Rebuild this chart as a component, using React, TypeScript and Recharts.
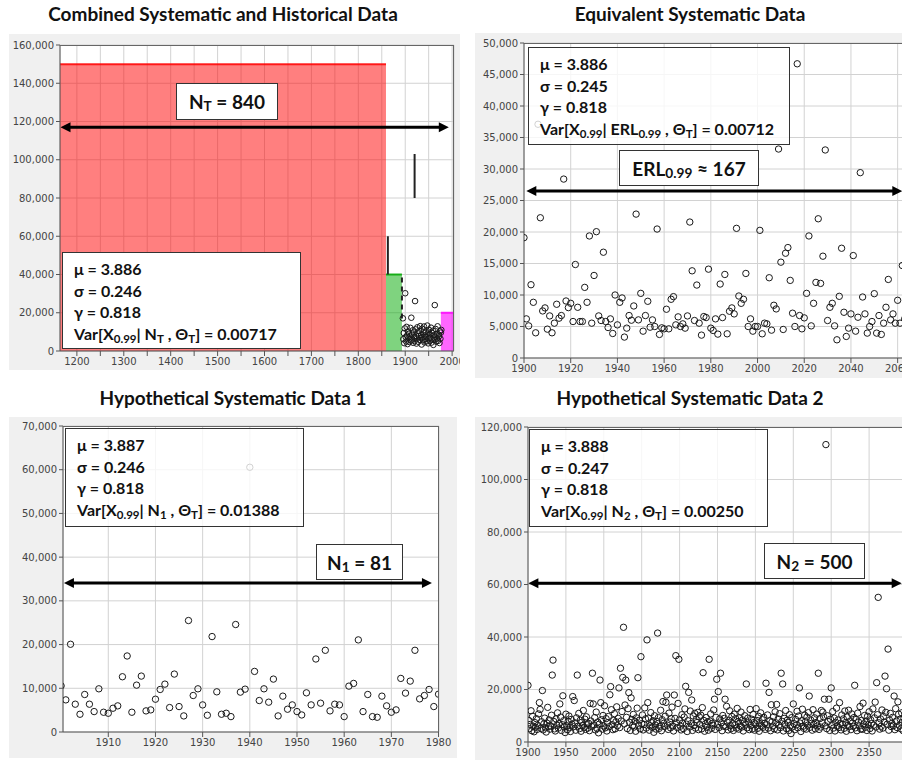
import React from "react";
import {
  ScatterChart,
  Scatter,
  XAxis,
  YAxis,
  CartesianGrid,
  ReferenceArea,
  ReferenceLine,
} from "recharts";

// all flows in thousands of cfs, one value per year
const K = 1000;

// --- Combined systematic and historical data ---
const combinedStartYear = 1895;
const combinedFlows = [
  17.1, 6.2, 9.4, 4.1, 11.8, 30.2, 7.3, 5.0, 12.6, 8.1,
  3.6, 10.2, 6.8, 9.0, 4.7, 7.5, 12.1, 5.5, 17.4, 8.6,
  6.0, 10.8, 4.3, 9.7, 7.1, 5.2, 26.1, 11.3, 8.0, 3.9,
  6.5, 12.4, 9.2, 4.8, 7.8, 10.5, 5.8, 13.0, 6.9, 8.4,
  3.4, 11.6, 7.2, 5.6, 9.8, 12.8, 4.5, 8.2, 6.3, 10.0,
  7.6, 5.1, 13.3, 9.1, 4.0, 6.7, 11.0, 8.8, 5.4, 7.0,
  12.2, 4.4, 9.5, 6.1, 10.6, 3.2, 8.3, 5.9, 24.0, 7.4,
  11.5, 4.9, 9.0, 6.6, 12.9, 5.3, 8.5, 7.7, 4.2, 10.3,
  6.4, 9.6, 11.0,
];
const histFrom = [1164, 1859, 1976];
const histTo = [1859, 1893, 2004];
const histLevel = [150000, 40000, 20000];
const histFloodYear = [1863, 1920];
const histFloodLow = [40000, 80000];
const histFloodHigh = [60000, 103000];
const censoredYear = 1893;
const censoredRange = [17000, 40000];
const combinedSpan = [1165, 1993];
const combinedArrowAt = 117000;

// --- Equivalent systematic data (ERL) ---
const erlStartYear = 1900;
const erlFlows = [
  19.1, 6.21, 5.1, 11.63, 8.84, 4.0, 37.1, 22.26, 7.47, 7.95,
  4.58, 6.68, 4.0, 5.53, 8.53, 6.32, 6.74, 28.4, 9.05, 8.0,
  8.68, 5.79, 14.84, 8.05, 5.79, 5.79, 11.21, 8.84, 19.37, 5.53,
  13.1, 20.05, 6.68, 5.95, 16.79, 5.79, 4.84, 6.21, 3.89, 10.0,
  5.26, 8.84, 9.53, 3.32, 4.74, 6.74, 6.0, 8.26, 22.84, 6.05,
  10.26, 4.26, 6.74, 9.0, 4.89, 6.05, 5.0, 20.47, 3.74, 4.79,
  4.63, 7.74, 4.63, 9.32, 9.74, 5.26, 6.53, 5.0, 5.42, 4.74,
  6.68, 21.58, 13.84, 5.95, 11.58, 5.53, 3.63, 6.58, 6.42, 14.1,
  4.74, 4.37, 6.21, 3.79, 11.74, 6.42, 13.26, 3.84, 7.42, 7.95,
  7.0, 20.58, 9.84, 8.68, 9.32, 13.42, 5.0, 6.21, 4.26, 5.0,
  5.0, 20.26, 3.84, 5.53, 5.42, 12.74, 4.42, 8.37, 7.79, 33.17,
  15.21, 4.53, 16.63, 17.53, 12.32, 7.11, 5.0, 46.7, 6.74, 4.63,
  6.37, 10.26, 19.37, 5.1, 8.68, 12.0, 22.1, 11.84, 16.16, 33.02,
  5.95, 8.05, 8.68, 5.1, 2.89, 9.79, 17.42, 7.26, 3.42, 4.74,
  7.0, 16.26, 4.26, 6.47, 29.42, 9.68, 7.0, 3.95, 5.0, 5.79,
  10.21, 3.95, 6.74, 3.74, 5.53, 8.05, 12.47, 6.05, 7.0, 5.53,
  9.16, 5.53, 14.68, 6.21,
];
const erlSpan = [1901, 2062];
const erlArrowAt = 26500;

// --- Hypothetical systematic data 1 ---
const hyp1StartYear = 1900;
const hyp1Flows = [
  10.57, 7.35, 20.07, 6.36, 4.06, 8.58, 6.36, 4.67, 9.88, 4.52,
  4.29, 5.44, 5.98, 12.64, 17.39, 4.52, 10.72, 12.79, 4.83, 5.06,
  7.5, 9.73, 10.95, 5.59, 13.25, 5.82, 3.68, 25.5, 8.35, 9.88,
  6.2, 3.83, 21.83, 9.19, 4.06, 4.29, 3.52, 24.59, 9.12, 9.8,
  60.56, 13.86, 7.2, 9.88, 6.82, 12.1, 3.68, 8.2, 5.21, 6.2,
  4.67, 3.9, 8.96, 6.2, 16.7, 6.59, 18.69, 4.83, 6.36, 6.2,
  3.52, 10.49, 11.11, 21.07, 4.67, 8.58, 3.52, 3.37, 8.2, 5.98,
  4.52, 5.06, 12.26, 8.89, 11.64, 18.69, 7.58, 8.35, 9.73, 5.82,
  8.65,
];
const hyp1Span = [1900.6, 1978.6];
const hyp1ArrowAt = 34100;

// --- Hypothetical systematic data 2 ---
const hyp2StartYear = 1900;
const hyp2Flows = [
  21.6, 8.2, 5.1, 6.7, 11.9, 4.3, 9.8, 6.0, 3.9, 7.4,
  5.6, 8.9, 4.8, 6.3, 10.7, 15.0, 12.4, 5.2, 7.7, 19.6,
  4.6, 6.9, 9.1, 5.4, 3.8, 7.2, 13.2, 5.9, 8.4, 4.9,
  6.1, 10.2, 25.5, 31.2, 7.8, 5.0, 4.2, 8.8, 6.4, 11.1,
  5.3, 7.0, 14.5, 9.5, 4.4, 6.6, 17.6, 8.1, 5.7, 3.6,
  10.6, 6.2, 4.7, 7.9, 9.9, 5.5, 4.0, 8.6, 6.8, 17.3,
  5.8, 15.8, 7.3, 4.5, 9.2, 25.5, 6.0, 10.9, 5.1, 8.3,
  4.1, 7.5, 6.3, 12.0, 5.6, 8.7, 4.8, 9.6, 6.9, 5.3,
  7.1, 4.3, 14.7, 8.0, 5.9, 26.2, 14.5, 6.5, 9.3, 4.6,
  11.4, 5.2, 7.6, 3.5, 6.8, 23.6, 15.0, 8.5, 4.9, 10.1,
  6.1, 13.8, 5.4, 8.9, 4.2, 7.3, 9.7, 5.8, 18.0, 21.1,
  12.3, 6.6, 4.7, 8.2, 10.8, 5.0, 7.7, 13.4, 6.2, 9.0,
  20.6, 5.5, 28.1, 8.0, 11.6, 24.6, 43.7, 6.9, 14.1, 23.6,
  9.4, 5.1, 12.7, 18.8, 7.5, 4.4, 16.8, 8.6, 6.3, 10.5,
  5.7, 7.9, 4.1, 9.2, 12.9, 24.5, 6.4, 8.3, 5.0, 32.5,
  7.0, 10.3, 4.6, 6.7, 13.0, 8.8, 5.3, 38.9, 15.0, 9.1,
  4.5, 6.2, 11.2, 7.4, 5.6, 8.1, 3.7, 10.0, 6.5, 4.9,
  7.8, 41.5, 9.3, 5.2, 6.0, 12.1, 4.3, 8.5, 15.4, 7.1,
  5.9, 9.8, 15.1, 17.9, 6.4, 4.8, 11.0, 7.6, 5.4, 8.9,
  13.3, 6.1, 4.2, 17.9, 9.0, 32.9, 7.3, 5.5, 14.7, 31.5,
  8.4, 6.0, 4.6, 10.4, 7.2, 5.1, 9.5, 12.6, 21.2, 6.8,
  4.0, 8.1, 18.9, 5.7, 11.8, 7.0, 16.0, 4.4, 9.9, 6.3,
  10.9, 5.3, 8.6, 7.4, 11.3, 4.7, 9.6, 6.6, 10.2, 5.0,
  13.1, 26.4, 8.2, 4.1, 6.9, 9.3, 5.6, 7.7, 4.5, 31.5,
  8.0, 10.7, 5.2, 7.1, 6.4, 12.2, 16.3, 4.8, 9.4, 23.9,
  6.7, 19.2, 5.5, 8.8, 26.2, 7.3, 4.3, 10.1, 6.0, 9.0,
  16.3, 5.8, 13.6, 7.5, 4.6, 8.3, 11.9, 6.2, 5.1, 9.7,
  7.0, 4.4, 10.6, 6.5, 8.9, 5.3, 12.8, 7.8, 4.9, 9.2,
  6.1, 11.4, 5.7, 8.4, 4.2, 7.2, 10.0, 6.8, 22.1, 5.4,
  9.1, 7.6, 4.7, 12.4, 6.3, 8.7, 5.0, 10.5, 7.4, 4.5,
  6.9, 12.7, 8.2, 5.2, 9.8, 4.1, 7.0, 11.1, 6.0, 8.5,
  5.6, 9.4, 7.1, 4.8, 22.4, 6.6, 10.3, 5.3, 18.9, 8.0,
  4.3, 14.2, 7.7, 6.1, 9.6, 5.0, 11.5, 7.3, 14.3, 4.6,
  8.8, 6.4, 10.8, 5.5, 26.2, 7.9, 22.1, 4.2, 9.0, 6.7,
  12.0, 5.1, 8.3, 7.5, 4.4, 10.4, 6.2, 3.2, 9.3, 5.8,
  14.5, 7.0, 4.7, 8.6, 6.5, 11.7, 5.4, 9.9, 20.6, 7.2,
  4.0, 8.1, 12.5, 6.0, 5.2, 10.2, 7.7, 4.9, 9.5, 6.4,
  11.2, 17.5, 5.6, 8.4, 7.1, 4.5, 12.3, 6.8, 9.2, 5.0,
  7.4, 10.6, 6.1, 26.2, 4.8, 8.9, 5.7, 12.0, 7.3, 11.4,
  9.6, 16.3, 6.2, 113.3, 5.1, 10.0, 7.8, 16.3, 4.4, 8.7,
  20.6, 6.5, 11.6, 5.3, 9.1, 4.2, 7.5, 12.9, 6.0, 8.4,
  5.5, 15.0, 7.0, 4.6, 10.3, 6.7, 8.8, 5.2, 11.8, 7.4,
  4.1, 9.5, 6.3, 12.1, 5.9, 8.0, 4.7, 10.7, 7.2, 6.0,
  9.3, 21.6, 5.4, 8.6, 4.3, 11.0, 7.6, 6.1, 13.5, 5.0,
  8.2, 4.8, 14.8, 6.9, 10.1, 5.6, 7.9, 4.4, 9.8, 6.6,
  11.5, 5.1, 8.5, 7.0, 4.2, 12.6, 6.4, 9.2, 15.2, 5.7,
  22.6, 10.4, 55.1, 7.3, 4.9, 8.8, 6.0, 12.2, 5.3, 9.7,
  7.6, 25.1, 11.3, 20.3, 6.8, 35.4, 4.5, 8.3, 10.9, 5.9,
  7.1, 9.4, 6.2, 17.5, 4.7, 12.7, 8.0, 5.5, 15.3, 10.6,
  6.4, 8.7, 5.0, 11.1, 7.5, 4.3, 9.0, 6.6, 12.4, 5.8,
];
const hyp2Span = [1900.5, 2393];
const hyp2ArrowAt = 60500;

// axis ticks
const combinedXTicks = [1200, 1250, 1300, 1350, 1400, 1450, 1500, 1550, 1600, 1650, 1700, 1750, 1800, 1850, 1900, 1950, 2000];
const combinedYTicks = [0, 20000, 40000, 60000, 80000, 100000, 120000, 140000, 160000];
const erlXTicks = [1900, 1920, 1940, 1960, 1980, 2000, 2020, 2040, 2060];
const erlYTicks = [0, 5000, 10000, 15000, 20000, 25000, 30000, 35000, 40000, 45000, 50000];
const hyp1XTicks = [1910, 1920, 1930, 1940, 1950, 1960, 1970, 1980];
const hyp1YTicks = [0, 10000, 20000, 30000, 40000, 50000, 60000, 70000];
const hyp2XTicks = [1900, 1950, 2000, 2050, 2100, 2150, 2200, 2250, 2300, 2350];
const hyp2YTicks = [0, 20000, 40000, 60000, 80000, 100000, 120000];

const FONT = "Lato, 'Open Sans', sans-serif";
const TICK = { fontSize: 10, fill: "#444", fontFamily: "'DejaVu Sans', sans-serif" };
const histFill = ["#ff0000", "#00a800", "#ff00ff"];
const histOpacity = [0.5, 0.5, 0.6];

const toPoints = (start: number, flows: number[]) =>
  flows.map((f, i) => ({ year: start + i, flow: f * K }));

const fmtFlow = (v: number) => v.toLocaleString("en-US");

const ring = (r: number) => (p: any) =>
  <circle cx={p.cx} cy={p.cy} r={r} fill="none" stroke="#1a1a1a" strokeWidth={1} />;

const arrow = (p: any) => {
  const { x1, y1, x2, y2 } = p;
  const h = 10;
  const w = 5;
  return (
    <g>
      <line x1={x1 + h - 1} y1={y1} x2={x2 - h + 1} y2={y2} stroke="#000" strokeWidth={3} />
      <polygon points={`${x1},${y1} ${x1 + h},${y1 - w} ${x1 + h},${y1 + w}`} fill="#000" />
      <polygon points={`${x2},${y2} ${x2 - h},${y2 - w} ${x2 - h},${y2 + w}`} fill="#000" />
    </g>
  );
};

type PanelProps = {
  left: number;
  top: number;
  width: number;
  height: number;
  margin: { top: number; right: number; bottom: number; left: number };
  yWidth: number;
  xDomain: [number, number];
  xTicks: number[];
  xLabel?: (v: number) => string;
  yDomain: [number, number];
  yTicks: number[];
  points: { year: number; flow: number }[];
  r: number;
  children?: React.ReactNode;
};

function Panel(p: PanelProps) {
  return (
    <div style={{ position: "absolute", left: p.left, top: p.top, width: p.width, height: p.height, background: "#f0f0f0" }}>
      <ScatterChart width={p.width} height={p.height} margin={p.margin}>
        <CartesianGrid stroke="#d2d2d2" fill="#ffffff" fillOpacity={1} />
        <XAxis
          type="number"
          dataKey="year"
          domain={p.xDomain}
          ticks={p.xTicks}
          interval={0}
          tickFormatter={p.xLabel}
          allowDataOverflow
          tick={TICK}
          tickSize={5}
          stroke="#555"
          height={18}
        />
        <YAxis
          type="number"
          dataKey="flow"
          domain={p.yDomain}
          ticks={p.yTicks}
          interval={0}
          tickFormatter={fmtFlow}
          allowDataOverflow
          tick={TICK}
          tickSize={4}
          stroke="#555"
          width={p.yWidth}
        />
        {p.children}
        <Scatter data={p.points} shape={ring(p.r)} isAnimationActive={false} />
      </ScatterChart>
      <div
        style={{
          position: "absolute",
          left: p.margin.left + p.yWidth,
          top: p.margin.top,
          width: p.width - p.margin.left - p.yWidth - p.margin.right,
          height: p.height - p.margin.top - p.margin.bottom - 18,
          borderTop: "1px solid #666",
          borderRight: "1px solid #666",
          boxSizing: "border-box",
          pointerEvents: "none",
        }}
      />
    </div>
  );
}

const Sub = ({ children }: { children: React.ReactNode }) => (
  <span style={{ fontSize: "0.72em", position: "relative", top: "0.32em" }}>{children}</span>
);

function StatBox(props: { left: number; top: number; width: number; height: number; opaque?: boolean; children: React.ReactNode }) {
  return (
    <div
      style={{
        position: "absolute",
        left: props.left,
        top: props.top,
        width: props.width,
        height: props.height,
        boxSizing: "border-box",
        border: "1px solid #333",
        background: props.opaque ? "#fff" : "rgba(255,255,255,0.8)",
        padding: "5px 0 0 11px",
        fontFamily: FONT,
        fontWeight: 700,
        fontSize: 16,
        lineHeight: "21.5px",
        color: "#111",
        whiteSpace: "nowrap",
      }}
    >
      {props.children}
    </div>
  );
}

function CountBox(props: { left: number; top: number; width: number; height: number; children: React.ReactNode }) {
  return (
    <div
      style={{
        position: "absolute",
        left: props.left,
        top: props.top,
        width: props.width,
        height: props.height,
        boxSizing: "border-box",
        border: "1px solid #333",
        background: "#fff",
        display: "flex",
        alignItems: "center",
        justifyContent: "center",
        fontFamily: FONT,
        fontWeight: 700,
        fontSize: 19,
        color: "#111",
        whiteSpace: "nowrap",
      }}
    >
      {props.children}
    </div>
  );
}

function Title(props: { cx: number; cy: number; text: string }) {
  return (
    <div
      style={{
        position: "absolute",
        left: props.cx,
        top: props.cy - 11,
        transform: "translateX(-50%)",
        fontFamily: FONT,
        fontWeight: 700,
        fontSize: 19,
        lineHeight: "22px",
        color: "#111",
        whiteSpace: "nowrap",
      }}
    >
      {props.text}
    </div>
  );
}

export default function App() {
  const combined = toPoints(combinedStartYear, combinedFlows);
  const erl = toPoints(erlStartYear, erlFlows);
  const hyp1 = toPoints(hyp1StartYear, hyp1Flows);
  const hyp2 = toPoints(hyp2StartYear, hyp2Flows);

  return (
    <div style={{ position: "absolute", left: 0, top: 0, width: 902, height: 760, overflow: "hidden", background: "#fff" }}>
      <Title cx={223} cy={14} text="Combined Systematic and Historical Data" />
      <Title cx={690} cy={14} text="Equivalent Systematic Data" />
      <Title cx={233} cy={398} text="Hypothetical Systematic Data 1" />
      <Title cx={690} cy={398} text="Hypothetical Systematic Data 2" />

      <Panel
        left={9}
        top={34}
        width={451}
        height={336}
        margin={{ top: 11, right: 6, bottom: 1, left: 6 }}
        yWidth={45}
        xDomain={[1164, 2004]}
        xTicks={combinedXTicks}
        xLabel={(v) => (v % 100 === 0 ? String(v) : "")}
        yDomain={[0, 160000]}
        yTicks={combinedYTicks}
        points={combined}
        r={2.8}
      >
        {histFrom.map((f, i) => (
          <ReferenceArea key={"a" + i} x1={f} x2={histTo[i]} y1={0} y2={histLevel[i]} fill={histFill[i]} fillOpacity={histOpacity[i]} stroke="none" />
        ))}
        {histFrom.map((f, i) => (
          <ReferenceLine key={"t" + i} segment={[{ x: f, y: histLevel[i] }, { x: histTo[i], y: histLevel[i] }]} stroke={histFill[i]} strokeWidth={2} strokeOpacity={0.85} />
        ))}
        {histFloodYear.map((y, i) => (
          <ReferenceLine key={"f" + i} segment={[{ x: y, y: histFloodLow[i] }, { x: y, y: histFloodHigh[i] }]} stroke="#222" strokeWidth={2} />
        ))}
        <ReferenceLine segment={[{ x: censoredYear, y: censoredRange[0] }, { x: censoredYear, y: censoredRange[1] }]} stroke="#222" strokeWidth={2} strokeDasharray="5 4" />
        <ReferenceLine segment={[{ x: combinedSpan[0], y: combinedArrowAt }, { x: combinedSpan[1], y: combinedArrowAt }]} shape={arrow} />
      </Panel>
      <StatBox left={62} top={252} width={239} height={97} opaque>
        μ = 3.886<br />σ = 0.246<br />γ = 0.818<br />
        Var[X<Sub>0.99</Sub>| N<Sub>T</Sub> , Θ<Sub>T</Sub>] = 0.00717
      </StatBox>
      <CountBox left={176} top={83} width={102} height={37}>
        N<Sub>T</Sub>&nbsp;= 840
      </CountBox>

      <Panel
        left={475}
        top={33}
        width={450}
        height={345}
        margin={{ top: 10, right: 11, bottom: 2, left: 9 }}
        yWidth={40}
        xDomain={[1900, 2067]}
        xTicks={erlXTicks}
        yDomain={[0, 50000]}
        yTicks={erlYTicks}
        points={erl}
        r={3.2}
      >
        <ReferenceLine segment={[{ x: erlSpan[0], y: erlArrowAt }, { x: erlSpan[1], y: erlArrowAt }]} shape={arrow} />
      </Panel>
      <StatBox left={528} top={47} width={262} height={98}>
        μ = 3.886<br />σ = 0.245<br />γ = 0.818<br />
        Var[X<Sub>0.99</Sub>| ERL<Sub>0.99</Sub> , Θ<Sub>T</Sub>] = 0.00712
      </StatBox>
      <CountBox left={619} top={150} width={140} height={36}>
        ERL<Sub>0.99</Sub>&nbsp;≈ 167
      </CountBox>

      <Panel
        left={9}
        top={417}
        width={448}
        height={341}
        margin={{ top: 9, right: 18, bottom: 8, left: 9 }}
        yWidth={45}
        xDomain={[1900.4, 1980.1]}
        xTicks={hyp1XTicks}
        yDomain={[0, 70000]}
        yTicks={hyp1YTicks}
        points={hyp1}
        r={3.2}
      >
        <ReferenceLine segment={[{ x: hyp1Span[0], y: hyp1ArrowAt }, { x: hyp1Span[1], y: hyp1ArrowAt }]} shape={arrow} />
      </Panel>
      <StatBox left={65} top={428} width={239} height={99}>
        μ = 3.887<br />σ = 0.246<br />γ = 0.818<br />
        Var[X<Sub>0.99</Sub>| N<Sub>1</Sub> , Θ<Sub>T</Sub>] = 0.01388
      </StatBox>
      <CountBox left={316} top={544} width={87} height={36}>
        N<Sub>1</Sub>&nbsp;= 81
      </CountBox>

      <Panel
        left={475}
        top={417}
        width={450}
        height={343}
        margin={{ top: 10, right: 18, bottom: 0, left: 8 }}
        yWidth={45}
        xDomain={[1900, 2400]}
        xTicks={hyp2XTicks}
        yDomain={[0, 120000]}
        yTicks={hyp2YTicks}
        points={hyp2}
        r={3.2}
      >
        <ReferenceLine segment={[{ x: hyp2Span[0], y: hyp2ArrowAt }, { x: hyp2Span[1], y: hyp2ArrowAt }]} shape={arrow} />
      </Panel>
      <StatBox left={529} top={429} width={239} height={98}>
        μ = 3.888<br />σ = 0.247<br />γ = 0.818<br />
        Var[X<Sub>0.99</Sub>| N<Sub>2</Sub> , Θ<Sub>T</Sub>] = 0.00250
      </StatBox>
      <CountBox left={764} top={543} width={101} height={36}>
        N<Sub>2</Sub>&nbsp;= 500
      </CountBox>
    </div>
  );
}
